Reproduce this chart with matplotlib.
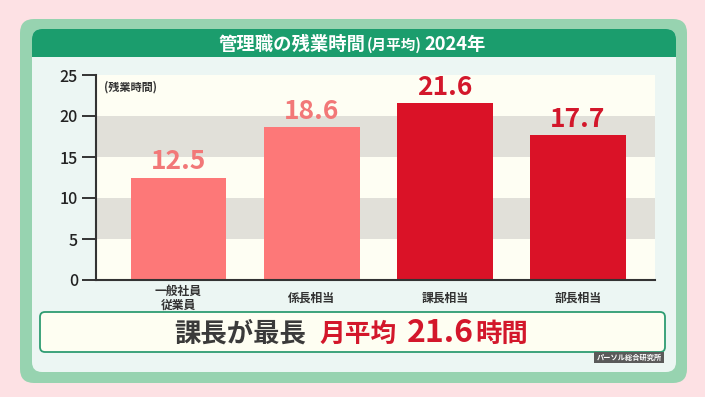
"""Overtime hours of managers (monthly average, 2024) — bar chart recreation."""

import matplotlib
matplotlib.use("Agg")
import matplotlib.pyplot as plt
from matplotlib.patches import FancyBboxPatch, Rectangle

plt.rcParams["font.family"] = ["Noto Sans CJK JP", "DejaVu Sans"]

# data
categories = ["一般社員\n従業員", "係長相当", "課長相当", "部長相当"]
hours = [12.5, 18.6, 21.6, 17.7]
value_labels = ["12.5", "18.6", "21.6", "17.7"]
y_ticks = [0, 5, 10, 15, 20, 25]

# colours
PINK_BG = "#FDE1E4"
GREEN_OUT = "#97D3B0"
PANEL = "#ECF6F3"
TITLE_GREEN = "#1B9D6D"
BAND_GRAY = "#E1E0D9"
BAND_CREAM = "#FEFEF3"
SALMON = "#FD7878"
RED = "#DA1227"
SALMON_TXT = "#F27878"
RED_TXT = "#D3172B"
DARK = "#333333"

bar_colors = [SALMON, SALMON, RED, RED]
label_colors = [SALMON_TXT, SALMON_TXT, RED_TXT, RED_TXT]

W, H = 705, 397
fig = plt.figure(figsize=(W / 100, H / 100), dpi=100, facecolor=PINK_BG)
renderer = fig.canvas.get_renderer()

# background layer in pixel coordinates
bg = fig.add_axes([0, 0, 1, 1])
bg.set_xlim(0, W)
bg.set_ylim(H, 0)
bg.axis("off")


def rbox(x0, y0, x1, y1, r, **kw):
    bg.add_patch(FancyBboxPatch((x0, y0), x1 - x0, y1 - y0,
                                boxstyle=f"round,pad=0,rounding_size={r}",
                                **kw))


def text_row(cx, y, parts):
    """Lay out (text, size, colour, gap_after) pieces on one baseline,
    centred on cx (pixels)."""
    items = []
    for s, size, color, gap in parts:
        t = fig.text(0, 1 - y / H, s, fontsize=size, color=color,
                     fontweight="bold", va="baseline", ha="left")
        items.append((t, t.get_window_extent(renderer).width, gap))
    total = sum(w + g for _, w, g in items) - items[-1][2]
    x = cx - total / 2
    for t, w, g in items:
        t.set_x(x / W)
        x += w + g


rbox(20, 19, 687, 383, 14, facecolor=GREEN_OUT, edgecolor="none")
rbox(32, 29, 676, 372, 10, facecolor=PANEL, edgecolor="none")
rbox(32, 29, 676, 57, 10, facecolor=TITLE_GREEN, edgecolor="none")
bg.add_patch(Rectangle((32, 43), 644, 14, facecolor=TITLE_GREEN,
                       edgecolor="none"))

# title
text_row(352, 50, [("管理職の残業時間", 13.2, "white", 1),
                   ("(月平均)", 10.5, "white", 3),
                   ("2024年", 13.2, "white", 0)])

# chart
ax = fig.add_axes([96 / W, 1 - 280 / H, (655 - 96) / W, (280 - 75) / H])
ax.set_facecolor(BAND_CREAM)
for lo in range(0, 25, 5):
    ax.axhspan(lo, lo + 5, color=BAND_GRAY if lo in (5, 15) else BAND_CREAM,
               lw=0, zorder=0)

x = range(len(categories))
ax.bar(x, hours, width=0.72, color=bar_colors, zorder=2)
for xi, v, lab, c in zip(x, hours, value_labels, label_colors):
    ax.text(xi, v + 0.25, lab, ha="center", va="bottom", color=c,
            fontsize=19, fontweight="bold", zorder=3)

ax.set_xlim(-0.62, 3.58)
ax.set_ylim(0, 25)
ax.set_yticks(y_ticks)
ax.set_yticklabels([str(t) for t in y_ticks], fontsize=11.5,
                   fontweight="medium", color="#222222")
ax.tick_params(axis="y", direction="out", length=10, width=1.4, color=DARK,
               pad=3)
ax.set_xticks(list(x))
ax.set_xticklabels(categories, fontsize=8.5, fontweight="bold",
                   color="#333333", linespacing=1.05)
ax.tick_params(axis="x", length=0, pad=13)
for lab in ax.get_xticklabels():
    lab.set_verticalalignment("center")
for s in ("top", "right"):
    ax.spines[s].set_visible(False)
for s in ("left", "bottom"):
    ax.spines[s].set_color(DARK)
    ax.spines[s].set_linewidth(1.5)
ax.text(0.014, 0.975, "(残業時間)", transform=ax.transAxes, fontsize=8,
        fontweight="bold", color="#333333", va="top", ha="left")

# summary box
rbox(40, 312, 665, 352, 5, facecolor="#FEFEF2", edgecolor="#2E9C72", lw=1.3)
text_row(351, 342, [("課長が最長", 19, "#3A3A3A", 14),
                    ("月平均", 18.5, RED_TXT, 10),
                    ("21.6", 23, RED_TXT, 1),
                    ("時間", 19, RED_TXT, 0)])

# source credit
bg.add_patch(Rectangle((594, 352), 70, 11, facecolor="#5A5A5A",
                       edgecolor="none"))
fig.text(629 / W, 1 - 357.5 / H, "パーソル総合研究所", color="white",
         fontsize=5.2, fontweight="bold", ha="center", va="center")

fig.savefig("out.png", dpi=100, facecolor=PINK_BG)
